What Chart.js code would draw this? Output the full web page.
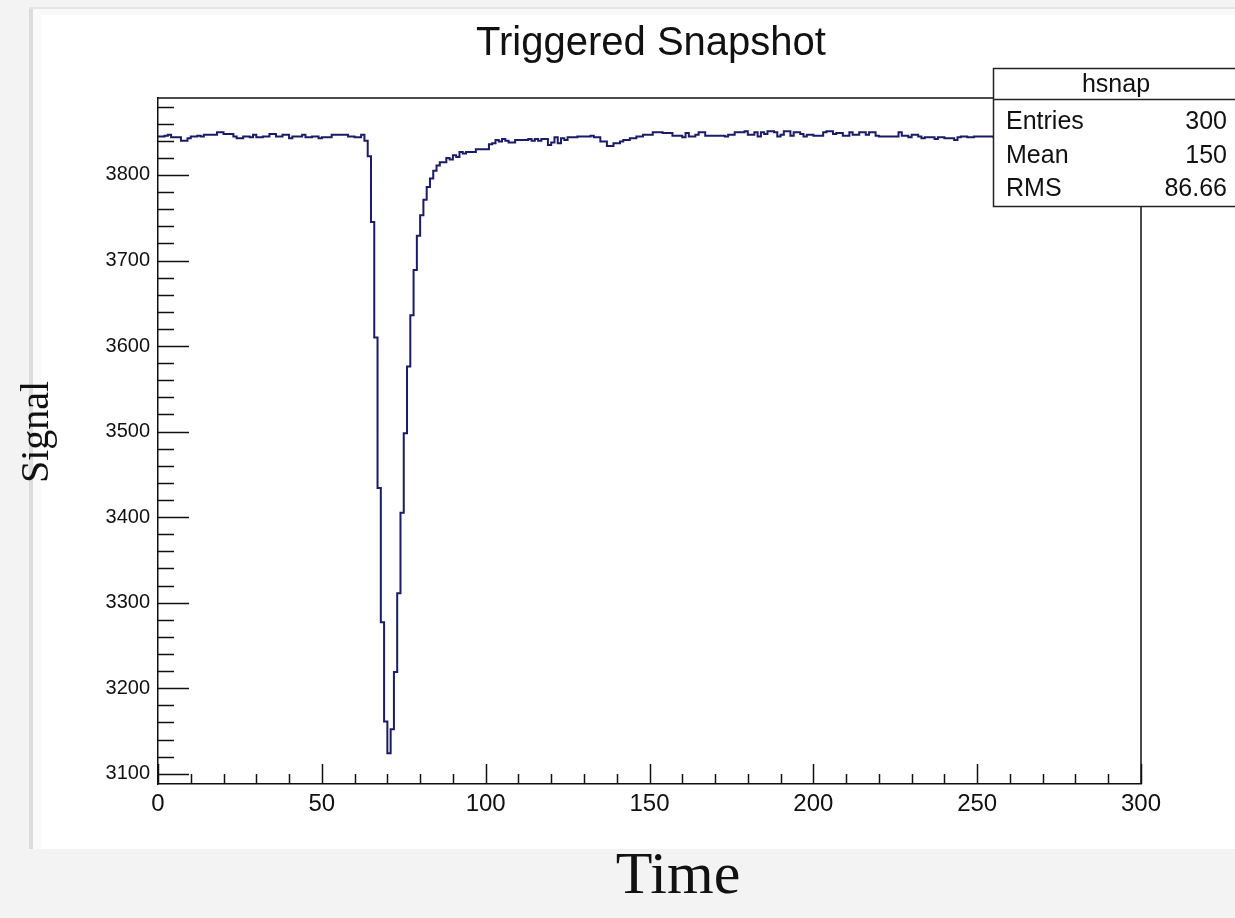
<!DOCTYPE html>
<html>
<head>
<meta charset="utf-8">
<script src="https://cdn.jsdelivr.net/npm/chart.js@4.4.1/dist/chart.umd.min.js"></script>
<style>
html,body{margin:0;padding:0;background:#f3f3f3;}
#c{position:absolute;left:0;top:0;width:1235px;height:918px;}
</style>
</head>
<body>
<canvas id="c" width="1235" height="918"></canvas>
<script>
// ---- data ----
const chartTitle = 'Triggered Snapshot';
const xTitle = 'Time';
const yTitle = 'Signal';
const binLowEdges = Array.from({length: 301}, (_, i) => i); // bin edges 0..300
const signal = [
 3845,3845,3846,3847,3844,3844,3844,3840,3840,3843,
 3845,3845,3846,3845,3847,3847,3847,3847,3850,3850,
 3848,3848,3848,3845,3843,3843,3845,3845,3844,3847,
 3844,3844,3845,3845,3848,3848,3845,3845,3847,3847,
 3843,3845,3845,3845,3847,3844,3844,3845,3845,3843,
 3844,3844,3844,3847,3847,3847,3847,3847,3845,3845,
 3844,3844,3847,3840,3822,3745,3610,3434,3277,3161,
 3124,3152,3219,3311,3405,3498,3576,3636,3689,3729,
 3753,3771,3786,3796,3805,3811,3815,3815,3820,3818,
 3823,3821,3827,3825,3827,3827,3827,3830,3830,3830,
 3830,3836,3837,3841,3839,3842,3840,3838,3838,3841,
 3841,3841,3841,3842,3840,3842,3840,3842,3842,3835,
 3838,3844,3837,3843,3841,3844,3844,3844,3845,3845,
 3845,3845,3846,3844,3844,3839,3839,3834,3834,3837,
 3837,3839,3841,3841,3843,3843,3845,3845,3847,3847,
 3847,3850,3850,3850,3849,3849,3849,3846,3846,3846,
 3844,3849,3845,3845,3847,3850,3850,3846,3846,3846,
 3846,3846,3846,3845,3847,3847,3850,3850,3850,3851,
 3847,3847,3850,3845,3850,3848,3851,3851,3850,3845,
 3847,3851,3851,3846,3850,3850,3848,3845,3847,3847,
 3846,3846,3846,3850,3851,3851,3848,3849,3849,3846,
 3846,3850,3847,3847,3850,3850,3847,3850,3850,3846,
 3845,3845,3845,3845,3845,3845,3850,3846,3846,3844,
 3847,3847,3845,3843,3844,3844,3844,3842,3844,3844,
 3843,3843,3843,3841,3844,3845,3845,3844,3844,3845,
 3845,3845,3845,3845,3845,3844,3846,3845,3843,3845,
 3847,3845,3844,3846,3845,3843,3845,3846,3844,3845,
 3847,3845,3844,3845,3846,3844,3845,3843,3845,3846,
 3845,3844,3847,3845,3845,3844,3846,3845,3843,3845,
 3846,3844,3845,3845,3847,3845,3844,3846,3845,3845
];
const xTickValues = [0, 50, 100, 150, 200, 250, 300];
const xTickLabels = ['0', '50', '100', '150', '200', '250', '300'];
const yTickValues = [3100, 3200, 3300, 3400, 3500, 3600, 3700, 3800];
const yTickLabels = ['3100', '3200', '3300', '3400', '3500', '3600', '3700', '3800'];
const xRange = [0, 300];
const yRange = [3088, 3890];
const statsName = 'hsnap';
const statsLabels = ['Entries', 'Mean', 'RMS'];
const statsValues = ['300', '150', '86.66'];

// ---- build points (histogram bins drawn as steps) ----
const points = signal.map((v, i) => ({x: binLowEdges[i], y: v}));
points.push({x: binLowEdges[signal.length], y: signal[signal.length - 1]});

const SANS = "'Liberation Sans', Arial, Helvetica, sans-serif";
const SERIF = "'Liberation Serif', 'Times New Roman', serif";
const FRAME = '#111111';

const bgPlugin = {
  id: 'bgPanel',
  beforeDraw(chart) {
    const ctx = chart.ctx;
    ctx.save();
    ctx.fillStyle = '#f3f3f3';
    ctx.fillRect(0, 0, chart.width, chart.height);
    ctx.fillStyle = '#dcdcdc';
    ctx.fillRect(29, 7, 4, 842);
    ctx.fillStyle = '#e6e6e6';
    ctx.fillRect(29, 7, chart.width - 29, 2);
    ctx.fillStyle = '#fafafa';
    ctx.fillRect(33, 9, chart.width - 33, 840);
    ctx.fillStyle = '#ffffff';
    ctx.fillRect(41, 15, chart.width - 41, 834);
    ctx.restore();
  }
};

const rootPlugin = {
  id: 'rootDecor',
  afterDraw(chart) {
    const ctx = chart.ctx;
    const a = chart.chartArea;
    const xs = chart.scales.x, ys = chart.scales.y;
    ctx.save();
    // frame top & right
    ctx.strokeStyle = FRAME;
    ctx.lineWidth = 1.5;
    ctx.beginPath();
    ctx.moveTo(a.left, a.top); ctx.lineTo(a.right, a.top); ctx.lineTo(a.right, a.bottom);
    ctx.stroke();
    // inward ticks on y
    ctx.beginPath();
    for (let v = 3100; v <= yRange[1]; v += 20) {
      const y = Math.round(ys.getPixelForValue(v)) + 0.5;
      const len = (v % 100 === 0) ? 31 : 16;
      ctx.moveTo(a.left, y); ctx.lineTo(a.left + len, y);
    }
    // inward ticks on x
    for (let v = xRange[0]; v <= xRange[1]; v += 10) {
      const x = Math.round(xs.getPixelForValue(v)) + 0.5;
      const len = (v % 50 === 0) ? 20 : 10;
      ctx.moveTo(x, a.bottom); ctx.lineTo(x, a.bottom - len);
    }
    ctx.stroke();

    // stats box
    const bx = 993, by = 68, bw = 260, bh = 138;
    ctx.fillStyle = '#ffffff';
    ctx.fillRect(bx, by, bw, bh);
    ctx.strokeStyle = '#222';
    ctx.lineWidth = 1.5;
    ctx.strokeRect(bx + 0.5, by + 0.5, bw, bh);
    ctx.beginPath();
    ctx.moveTo(bx, by + 31.5); ctx.lineTo(bx + bw, by + 31.5);
    ctx.stroke();
    ctx.fillStyle = '#111';
    ctx.font = '25px ' + SANS;
    ctx.textBaseline = 'middle';
    ctx.textAlign = 'center';
    ctx.fillText(statsName, 1116, 85);
    const rowsY = [122, 156, 189];
    statsLabels.forEach((lab, i) => {
      ctx.textAlign = 'left';
      ctx.fillText(lab, 1006, rowsY[i]);
      ctx.textAlign = 'right';
      ctx.fillText(statsValues[i], 1227, rowsY[i]);
    });

    // axis titles
    ctx.fillStyle = '#111';
    ctx.textAlign = 'center';
    ctx.textBaseline = 'middle';
    ctx.font = '40px ' + SERIF;
    ctx.save();
    ctx.translate(37, 432);
    ctx.rotate(-Math.PI / 2);
    ctx.fillText(yTitle, 0, 0);
    ctx.restore();
    ctx.font = '60px ' + SERIF;
    ctx.fillText(xTitle, 678, 877);
    ctx.restore();
  }
};

new Chart(document.getElementById('c'), {
  type: 'line',
  data: {
    datasets: [{
      data: points,
      stepped: true,
      borderColor: '#1b1b66',
      borderWidth: 2,
      pointRadius: 0,
      fill: false,
      tension: 0
    }]
  },
  options: {
    responsive: false,
    animation: false,
    events: [],
    layout: {padding: {left: 67, right: 0, top: 0, bottom: 0}},
    plugins: {
      legend: {display: false},
      tooltip: {enabled: false},
      title: {
        display: true,
        text: chartTitle,
        color: '#111',
        font: {family: SANS, size: 40, weight: 'normal', lineHeight: 1.2},
        padding: {top: 20, bottom: 30}
      }
    },
    scales: {
      x: {
        type: 'linear',
        position: 'bottom',
        min: xRange[0], max: xRange[1],
        afterBuildTicks: s => { s.ticks = xTickValues.map(v => ({value: v})); },
        afterFit: s => { s.height = 134; },
        grid: {display: false, drawTicks: false},
        border: {display: true, color: FRAME, width: 1.5},
        ticks: {
          autoSkip: false, maxRotation: 0, minRotation: 0,
          color: '#111', padding: 6,
          font: {family: SANS, size: 24},
          callback: v => xTickLabels[xTickValues.indexOf(v)]
        }
      },
      y: {
        type: 'linear',
        position: 'left',
        min: yRange[0], max: yRange[1],
        afterBuildTicks: s => { s.ticks = yTickValues.map(v => ({value: v})); },
        afterFit: s => { s.width = 91; },
        grid: {display: false, drawTicks: false},
        border: {display: true, color: FRAME, width: 1.5},
        ticks: {
          autoSkip: false,
          color: '#111', padding: 8,
          font: {family: SANS, size: 20},
          callback: v => yTickLabels[yTickValues.indexOf(v)]
        }
      },
      yRightSpace: {
        type: 'linear',
        position: 'right',
        min: yRange[0], max: yRange[1],
        afterFit: s => { s.width = 94; },
        grid: {display: false, drawTicks: false},
        border: {display: false},
        ticks: {display: false}
      }
    }
  },
  plugins: [bgPlugin, rootPlugin]
});
</script>
</body>
</html>
